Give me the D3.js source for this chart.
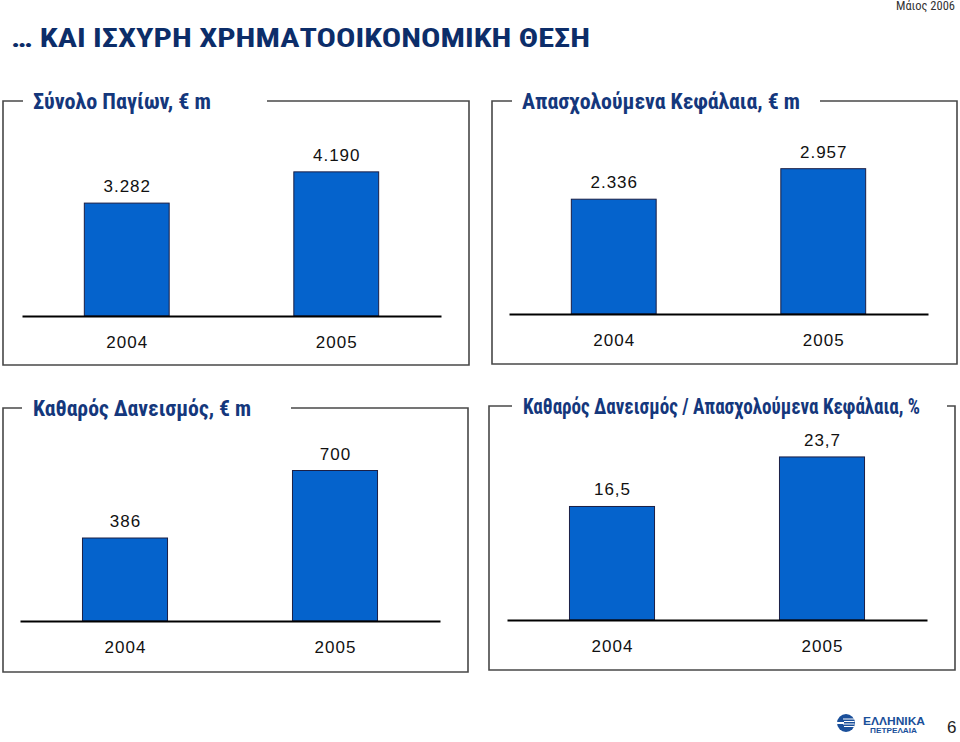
<!DOCTYPE html>
<html>
<head>
<meta charset="utf-8">
<script src="https://cdn.jsdelivr.net/npm/d3@7"></script>
<style>
  html, body { margin: 0; padding: 0; background: #fff; }
  svg { display: block; }
  .narrow { font-family: "Liberation Sans Narrow", "Arial Narrow", "Roboto Condensed", "Liberation Sans", Arial, sans-serif; }
  .num { font-family: "Liberation Sans", Arial, sans-serif; font-size: 17px; letter-spacing: 1px; fill: #111; }
</style>
</head>
<body>
<svg id="chart" width="960" height="742"></svg>
<script>
// ---------------- DATA ----------------
const years = ["2004", "2005"];
const fixedAssets = [3282, 4190];          // Σύνολο Παγίων, € m
const capitalEmployed = [2336, 2957];      // Απασχολούμενα Κεφάλαια, € m
const netDebt = [386, 700];                // Καθαρός Δανεισμός, € m
const gearing = [16.5, 23.7];              // Καθαρός Δανεισμός / Απασχολούμενα Κεφάλαια, %
const panelTitles = [
  "Σύνολο Παγίων, € m",
  "Απασχολούμενα Κεφάλαια, € m",
  "Καθαρός Δανεισμός, € m",
  "Καθαρός Δανεισμός / Απασχολούμενα Κεφάλαια, %"
];
const yMaxima = [5000, 3500, 800, 25];
const mainTitle = "… ΚΑΙ ΙΣΧΥΡΗ ΧΡΗΜΑΤΟΟΙΚΟΝΟΜΙΚΗ ΘΕΣΗ";
const dateText = "Μάιος 2006";
const pageNumber = "6";

// ---------------- LAYOUT ----------------
const gr = d3.formatLocale({decimal: ",", thousands: ".", grouping: [3], currency: ["", "€"]});
const fmtInt = gr.format(",");
const fmtDec = gr.format(",.1f");

const seriesList = [fixedAssets, capitalEmployed, netDebt, gearing];
const formats = [fmtInt, fmtInt, fmtInt, fmtDec];

const layouts = [
  {left: 3,   right: 469, top: 101, bottom: 365, gap: [23, 267],  tx: 33,  tw: 178, tb: 109, ax: [22, 441],  base: 316},
  {left: 492, right: 957, top: 101, bottom: 364, gap: [512, 820], tx: 522, tw: 278, tb: 109, ax: [509, 928], base: 314},
  {left: 3,   right: 468, top: 408, bottom: 672, gap: [22, 291],  tx: 33,  tw: 218, tb: 416, ax: [20, 440],  base: 621},
  {left: 489, right: 955, top: 406, bottom: 670, gap: [512, 947], tx: 523, tw: 397, tb: 414, ax: [507, 927], base: 620}
];
const plotH = 172;

const svg = d3.select("#chart");

// Header
svg.append("text")
  .attr("class", "narrow")
  .attr("x", 896).attr("y", 10)
  .attr("textLength", 59).attr("lengthAdjust", "spacingAndGlyphs")
  .style("font-size", "12px").style("fill", "#333")
  .text(dateText);

svg.append("text")
  .attr("class", "narrow")
  .attr("x", 11).attr("y", 47)
  .attr("textLength", 579).attr("lengthAdjust", "spacingAndGlyphs")
  .style("font-size", "26px").style("font-weight", "bold").style("fill", "#0c2d69")
  .text(mainTitle);

// Panels
layouts.forEach((L, i) => {
  const g = svg.append("g");
  const values = seriesList[i];

  // frame with gap for the title
  const framePath = d3.path();
  framePath.moveTo(L.gap[0], L.top);
  framePath.lineTo(L.left, L.top);
  framePath.lineTo(L.left, L.bottom);
  framePath.lineTo(L.right, L.bottom);
  framePath.lineTo(L.right, L.top);
  framePath.lineTo(L.gap[1], L.top);
  g.append("path")
    .attr("d", framePath.toString())
    .attr("fill", "none")
    .attr("stroke", "#484848")
    .attr("stroke-width", 1.6);

  g.append("text")
    .attr("class", "narrow")
    .attr("x", L.tx).attr("y", L.tb)
    .attr("textLength", L.tw).attr("lengthAdjust", "spacingAndGlyphs")
    .style("font-size", "22px").style("font-weight", "bold").style("fill", "#14377c")
    .text(panelTitles[i]);

  const x = d3.scaleBand()
    .domain(years)
    .range(L.ax)
    .paddingInner(0.595)
    .paddingOuter(0.2975);

  const y = d3.scaleLinear()
    .domain([0, yMaxima[i]])
    .range([L.base, L.base - plotH]);

  g.selectAll("rect.bar")
    .data(years.map((yr, k) => ({yr, v: values[k]})))
    .join("rect")
    .attr("class", "bar")
    .attr("x", d => x(d.yr))
    .attr("width", x.bandwidth())
    .attr("y", d => y(d.v))
    .attr("height", d => y(0) - y(d.v))
    .attr("fill", "#0563cc")
    .attr("stroke", "#1b1f45")
    .attr("stroke-width", 1);

  g.selectAll("text.val")
    .data(years.map((yr, k) => ({yr, v: values[k]})))
    .join("text")
    .attr("class", "val num")
    .attr("x", d => x(d.yr) + x.bandwidth() / 2 + 0.5)
    .attr("y", d => y(d.v) - 11)
    .attr("text-anchor", "middle")
    .text(d => formats[i](d.v));

  const axis = d3.axisBottom(x).tickSize(0).tickPadding(20);
  const ag = g.append("g")
    .attr("transform", `translate(0,${L.base})`)
    .call(axis);
  ag.select(".domain").attr("stroke", "#000").attr("stroke-width", 2);
  ag.selectAll(".tick text")
    .attr("class", "num")
    .attr("font-family", null).attr("font-size", null)
    .attr("fill", null)
    .attr("dx", "0.5");
});

// Logo
const logo = svg.append("g");
logo.append("circle").attr("cx", 846).attr("cy", 723).attr("r", 9).attr("fill", "#1a4f9a");
[-4, -1.5, 1, 3.5].forEach((dy, k) => {
  logo.append("line")
    .attr("x1", 843 + (k % 2)).attr("x2", 854.5)
    .attr("y1", 723 + dy).attr("y2", 723 + dy)
    .attr("stroke", "#fff").attr("stroke-width", 1);
});
logo.append("rect").attr("x", 837).attr("y", 722).attr("width", 7).attr("height", 2).attr("fill", "#fff");
logo.append("text")
  .attr("x", 863).attr("y", 725)
  .attr("textLength", 62).attr("lengthAdjust", "spacingAndGlyphs")
  .style("font-family", "'Liberation Sans', Arial, sans-serif")
  .style("font-size", "11px").style("font-weight", "bold").style("fill", "#1a4f9a")
  .text("ΕΛΛΗΝΙΚΑ");
logo.append("text")
  .attr("x", 870).attr("y", 733)
  .attr("textLength", 47).attr("lengthAdjust", "spacingAndGlyphs")
  .style("font-family", "'Liberation Sans', Arial, sans-serif")
  .style("font-size", "7px").style("font-weight", "bold").style("fill", "#1a4f9a")
  .text("ΠΕΤΡΕΛΑΙΑ");

svg.append("text")
  .attr("x", 947).attr("y", 733)
  .style("font-family", "'Liberation Sans', Arial, sans-serif")
  .style("font-size", "17px").style("fill", "#222")
  .text(pageNumber);
</script>
</body>
</html>
